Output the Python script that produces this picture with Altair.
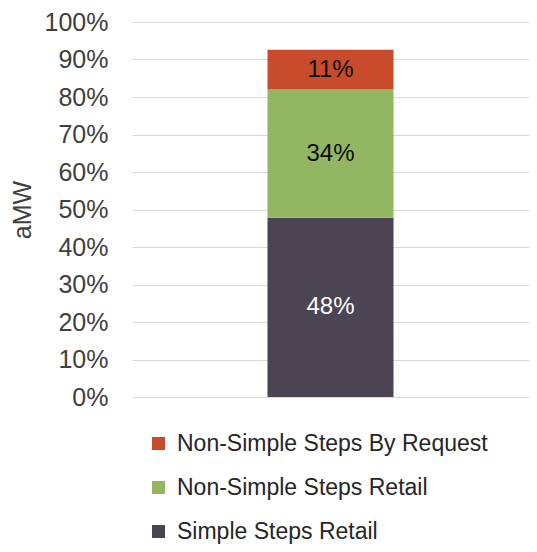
import altair as alt
import pandas as pd

categories = ["Simple Steps Retail", "Non-Simple Steps Retail", "Non-Simple Steps By Request"]
values = [47.8, 34.2, 10.6]
labels = ["48%", "34%", "11%"]
colors = ["#4A4453", "#93B662", "#C84B2C"]
stack_order = [0, 1, 2]
y_ticks = [0, 10, 20, 30, 40, 50, 60, 70, 80, 90, 100]

df = pd.DataFrame({
    "group": ["All"] * len(categories),
    "series": categories,
    "value": values,
    "label": labels,
    "ord": stack_order,
})

FONT = "Liberation Sans"

y_axis = alt.Axis(
    values=y_ticks, tickCount=len(y_ticks), labelExpr="datum.value + '%'",
    domain=False, ticks=False, labelOverlap=False,
    labelPadding=24, labelFontSize=25, labelColor="#404040", labelFont=FONT,
    gridColor="#D9D9D9", gridWidth=1,
    titleFontSize=25, titleFont=FONT, titleColor="#404040",
    titleFontWeight="normal", titlePadding=9,
)
y_scale = alt.Scale(domain=[0, 100], nice=False)

base = alt.Chart(df).transform_stack(
    stack="value", as_=["y0", "y1"], groupby=["group"], sort=[alt.SortField("ord")]
).transform_calculate(mid="(datum.y0 + datum.y1) / 2")

bars = base.mark_bar(size=126).encode(
    x=alt.X("group:N", axis=None),
    y=alt.Y("y0:Q", scale=y_scale, title="aMW", axis=y_axis),
    y2="y1:Q",
    color=alt.Color(
        "series:N",
        scale=alt.Scale(domain=categories[::-1], range=colors[::-1]),
        legend=alt.Legend(
            title=None, orient="none", legendX=15, legendY=410, direction="vertical",
            symbolType="square", symbolSize=169, symbolStrokeWidth=0,
            labelFontSize=23, labelFont=FONT, labelColor="#262626", labelLimit=0,
            rowPadding=20, labelOffset=7,
        ),
    ),
)

text = base.mark_text(fontSize=24, font=FONT, baseline="middle").encode(
    x=alt.X("group:N", axis=None),
    y=alt.Y("mid:Q", scale=y_scale, axis=None),
    text="label:N",
    color=alt.condition(alt.datum.series == "Simple Steps Retail", alt.value("#FFFFFF"), alt.value("#0D0D0D")),
)

chart = alt.layer(bars, text).resolve_axis(y="independent").properties(
    width=397, height=375,
    autosize=alt.AutoSizeParams(type="none"),
    padding={"left": 124, "top": 14, "right": 0, "bottom": 147},
).configure_view(stroke=None)

chart.save("out.html", embed_options={"renderer": "svg", "actions": False})
